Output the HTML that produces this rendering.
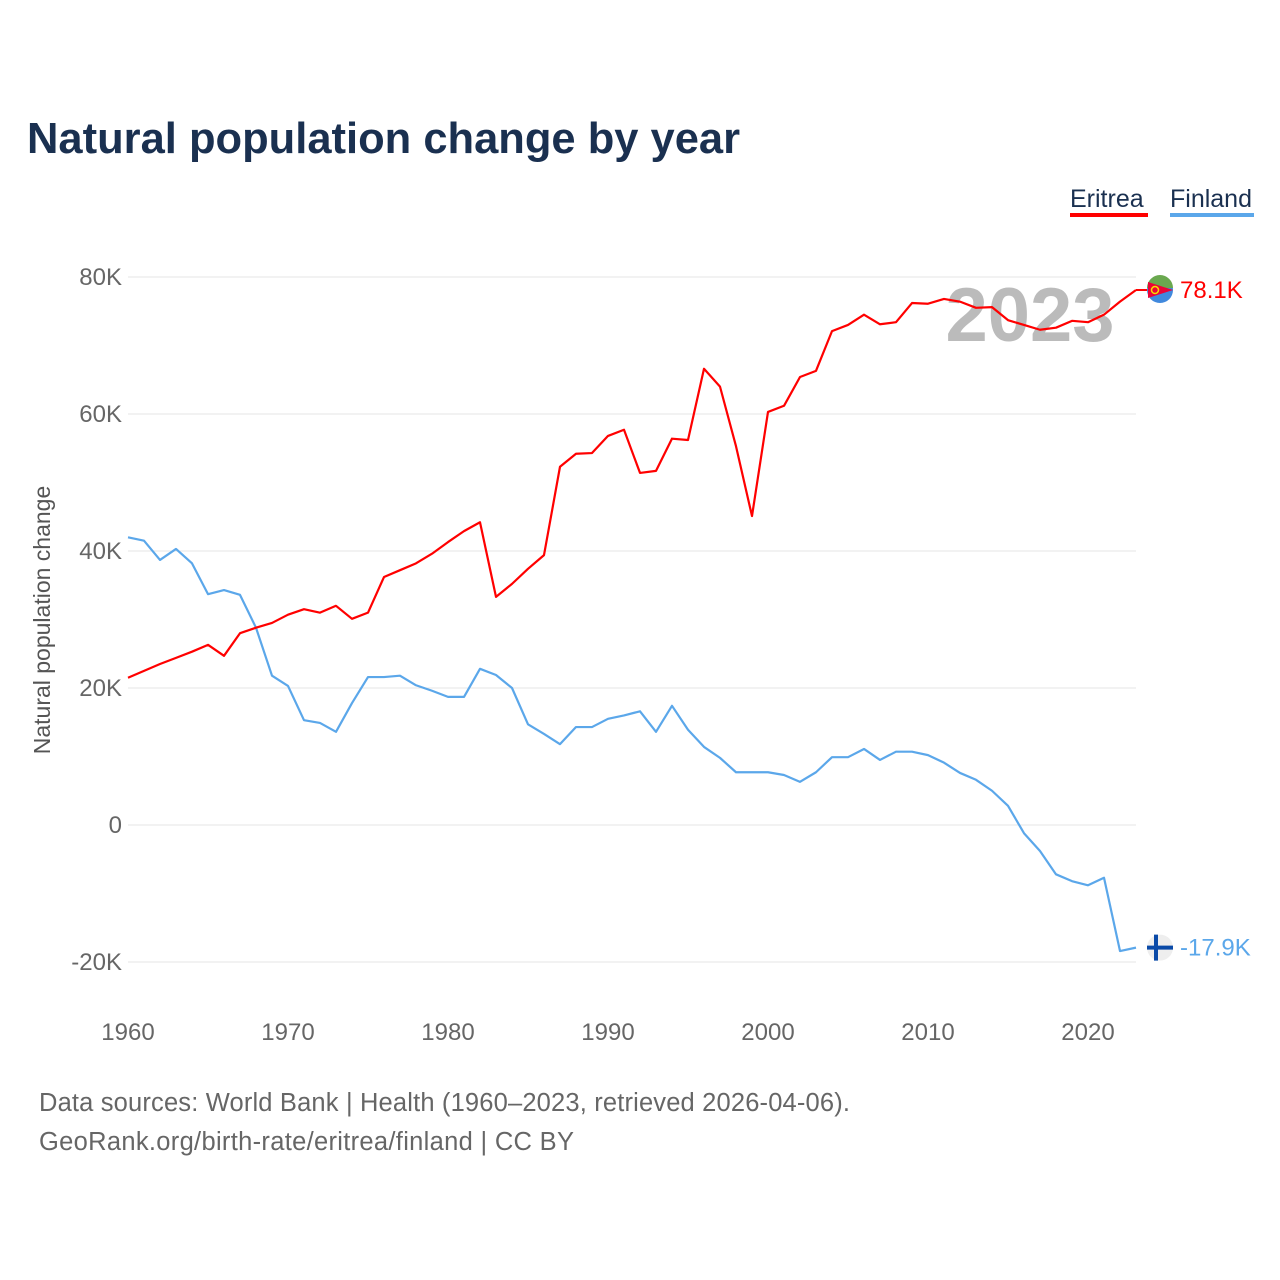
<!DOCTYPE html>
<html><head><meta charset="utf-8">
<style>
body{margin:0;background:#fff;font-family:"Liberation Sans",sans-serif;}
#wrap{position:relative;width:1280px;height:1280px;overflow:hidden;}
</style></head>
<body>
<div id="wrap">
<svg id="chart" width="1280" height="1280">
<text x="27" y="153" font-size="43.5" font-weight="bold" fill="#1a3050">Natural population change by year</text>
<g><text x="1070" y="207" font-size="25" fill="#1a3050">Eritrea</text><rect x="1070" y="213" width="78" height="4" fill="#ff0000"/></g>
<g><text x="1170" y="207" font-size="25" fill="#1a3050">Finland</text><rect x="1170" y="213" width="84" height="4" fill="#5ba7ea"/></g>
<text x="1030" y="341" font-size="76" font-weight="bold" fill="#bbbbbb" text-anchor="middle">2023</text>
<text transform="translate(50,620) rotate(-90)" font-size="23" fill="#555" text-anchor="middle">Natural population change</text>
<g id="grid"></g><g id="series"></g>
<text x="39" y="1111" font-size="25.5" fill="#666" textLength="811">Data sources: World Bank | Health (1960–2023, retrieved 2026-04-06).</text>
<text x="39" y="1150" font-size="25.5" fill="#666" textLength="535">GeoRank.org/birth-rate/eritrea/finland | CC BY</text>
</svg>
</div>
<script>
const years=[];for(let y=1960;y<=2023;y++)years.push(y);
const eritrea=[21.5,22.5,23.5,24.4,25.3,26.3,24.7,28,28.8,29.5,30.7,31.5,31,32,30.1,31,36.2,37.2,38.2,39.6,41.3,42.9,44.2,33.3,35.2,37.4,39.4,52.3,54.2,54.3,56.8,57.7,51.4,51.7,56.4,56.2,66.6,64,55.3,45.1,60.3,61.2,65.4,66.3,72.1,73,74.5,73.1,73.4,76.2,76.1,76.8,76.4,75.5,75.6,73.7,73,72.3,72.6,73.6,73.4,74.5,76.4,78.1];
const finland=[42,41.5,38.7,40.3,38.2,33.7,34.3,33.6,28.8,21.8,20.3,15.3,14.9,13.6,17.8,21.6,21.6,21.8,20.4,19.6,18.7,18.7,22.8,21.9,20,14.7,13.3,11.8,14.3,14.3,15.5,16,16.6,13.6,17.4,13.9,11.4,9.8,7.7,7.7,7.7,7.3,6.3,7.7,9.9,9.9,11.1,9.5,10.7,10.7,10.2,9.1,7.6,6.6,5,2.8,-1.2,-3.8,-7.2,-8.2,-8.8,-7.7,-18.4,-17.9];
const yTicks=[-20,0,20,40,60,80];
const yTickLabels=["-20K","0","20K","40K","60K","80K"];
const xTicks=[1960,1970,1980,1990,2000,2010,2020];
const NS="http://www.w3.org/2000/svg";
const xs=y=>128+(y-1960)*16;
const ys=v=>825-v*6.85;
const grid=document.getElementById('grid'),ser=document.getElementById('series');
function mk(tag,attrs,parent){const e=document.createElementNS(NS,tag);for(const k in attrs)e.setAttribute(k,attrs[k]);parent.appendChild(e);return e;}
yTicks.forEach((t,i)=>{
 const l=mk('line',{x1:128,x2:1136,y1:ys(t),y2:ys(t),stroke:'#e6e6e6','stroke-width':1},grid);
 
 
 const tx=mk('text',{x:122,y:ys(t)+8,'font-size':24,fill:'#666','text-anchor':'end'},grid);
 tx.textContent=yTickLabels[i];
 
 
});
xTicks.forEach(t=>{
 const tx=mk('text',{x:xs(t),y:1040,'font-size':24,fill:'#666','text-anchor':'middle'},grid);
 tx.textContent=t;
 
 
});
function line(data,color,name){
 const d=data.map((v,i)=>(i?'L':'M')+xs(years[i])+','+ys(v)).join('');
 const p=mk('path',{d:d,fill:'none',stroke:color,'stroke-width':2.2,'stroke-linejoin':'round'},ser);
 
 
}
line(finland,'#5ba7ea','finland');
line(eritrea,'#ff0000','eritrea');
const eLast=eritrea[eritrea.length-1],fLast=finland[finland.length-1];
const eg=mk('g',{},ser);


mk('line',{x1:1136,x2:1150,y1:ys(eLast),y2:ys(eLast),stroke:'#ff0000','stroke-width':2},eg);
mk('circle',{cx:1160,cy:ys(eLast),r:13,fill:'#4189dd'},eg);
mk('path',{d:`M1147,${ys(eLast)-2} A13,13 0 0 1 1173,${ys(eLast)-2} Z`,fill:'#6aa84f'},eg);
mk('path',{d:`M1148,${ys(eLast)-8} L1173,${ys(eLast)} L1148,${ys(eLast)+8} Z`,fill:'#ea0437'},eg);
mk('circle',{cx:1155,cy:ys(eLast),r:3.5,fill:'none',stroke:'#f3e100','stroke-width':1.5},eg);
const et=mk('text',{x:1180,y:ys(eLast)+8,'font-size':24,fill:'#ff0000'},ser);
et.textContent=eLast.toFixed(1)+'K';


const fg=mk('g',{},ser);


mk('circle',{cx:1160,cy:ys(fLast),r:13,fill:'#eeeeee'},fg);
mk('rect',{x:1147,y:ys(fLast)-2,width:26,height:4,fill:'#0a4aa8'},fg);
mk('rect',{x:1154,y:ys(fLast)-13,width:4,height:26,fill:'#0a4aa8'},fg);
const ft=mk('text',{x:1180,y:ys(fLast)+8,'font-size':24,fill:'#5ba7ea'},ser);
ft.textContent=fLast.toFixed(1)+'K';


</script>
</body></html>
